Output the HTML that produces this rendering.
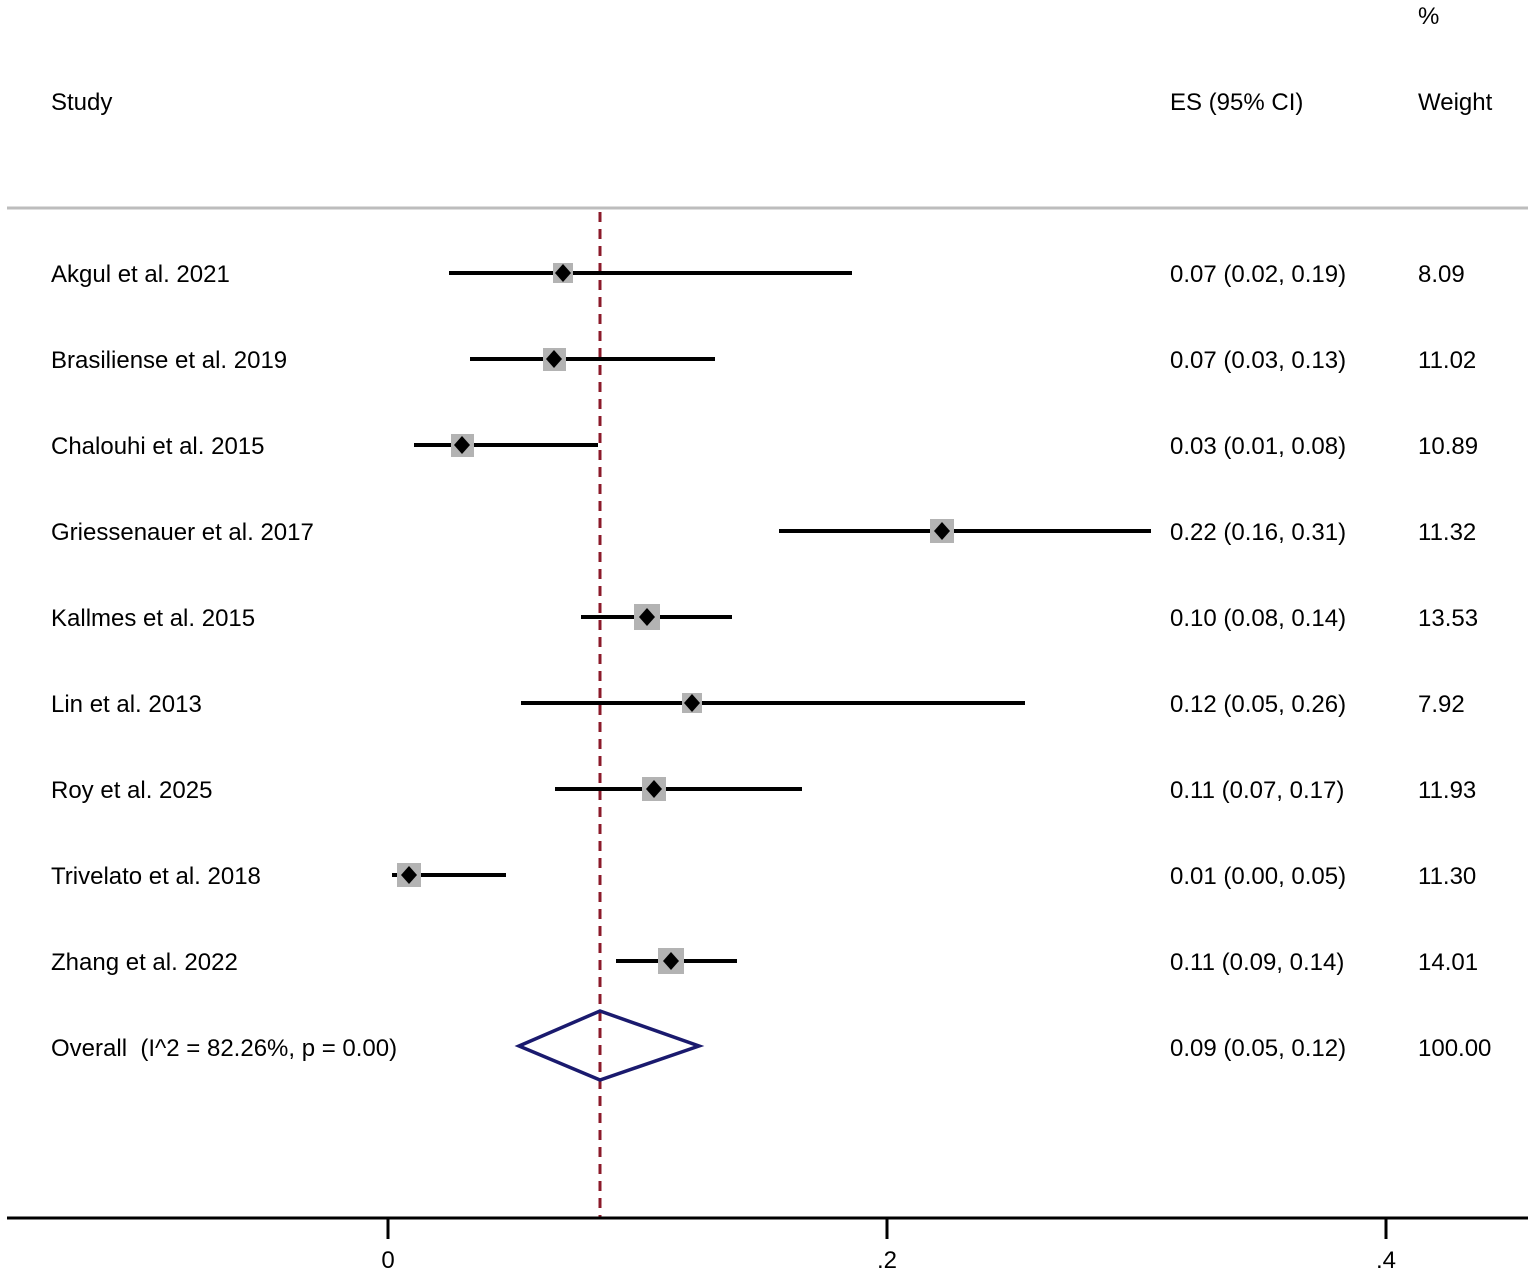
<!DOCTYPE html>
<html><head><meta charset="utf-8"><style>
html,body{margin:0;padding:0;background:#fff}
svg{display:block}
text{font-family:"Liberation Sans",Arial,sans-serif;font-size:24px;fill:#000}
</style></head><body>
<svg width="1535" height="1275" viewBox="0 0 1535 1275" xmlns="http://www.w3.org/2000/svg">
<text x="1418" y="24">%</text>
<text x="51" y="110">Study</text>
<text x="1170" y="110">ES (95% CI)</text>
<text x="1418" y="110">Weight</text>
<line x1="7" y1="208" x2="1528" y2="208" stroke="#bdbdbd" stroke-width="3"/>
<line x1="600" y1="212" x2="600" y2="1217" stroke="#8b1a2a" stroke-width="3" stroke-dasharray="10,7"/>
<g stroke="#000" stroke-width="4">
<line x1="449" y1="273" x2="852" y2="273"/>
<line x1="470" y1="359" x2="715" y2="359"/>
<line x1="414" y1="445" x2="598" y2="445"/>
<line x1="779" y1="531" x2="1151" y2="531"/>
<line x1="581" y1="617" x2="732" y2="617"/>
<line x1="521" y1="703" x2="1025" y2="703"/>
<line x1="555" y1="789" x2="802" y2="789"/>
<line x1="392" y1="875" x2="506" y2="875"/>
<line x1="616" y1="961" x2="737" y2="961"/>
</g>
<g fill="#b3b3b3">
<rect x="553" y="263" width="20" height="20"/>
<rect x="543" y="348" width="23" height="23"/>
<rect x="451" y="434" width="23" height="23"/>
<rect x="930" y="519" width="24" height="24"/>
<rect x="634" y="604" width="26" height="26"/>
<rect x="682" y="693" width="20" height="20"/>
<rect x="642" y="777" width="24" height="24"/>
<rect x="397" y="863" width="24" height="24"/>
<rect x="658" y="948" width="26" height="26"/>
</g>
<g fill="#000">
<polygon points="563,264 571,273 563,282 555,273"/>
<polygon points="554,350 562,359 554,368 546,359"/>
<polygon points="462,436 470,445 462,454 454,445"/>
<polygon points="942,522 950,531 942,540 934,531"/>
<polygon points="647,608 655,617 647,626 639,617"/>
<polygon points="692,694 700,703 692,712 684,703"/>
<polygon points="654,780 662,789 654,798 646,789"/>
<polygon points="409,866 417,875 409,884 401,875"/>
<polygon points="671,952 679,961 671,970 663,961"/>
</g>
<polygon points="600,1011 699,1046 600,1080 519,1046" fill="none" stroke="#1a1a6e" stroke-width="3.5"/>
<g>
<text x="51" y="282">Akgul et al. 2021</text>
<text x="51" y="368">Brasiliense et al. 2019</text>
<text x="51" y="454">Chalouhi et al. 2015</text>
<text x="51" y="540">Griessenauer et al. 2017</text>
<text x="51" y="626">Kallmes et al. 2015</text>
<text x="51" y="712">Lin et al. 2013</text>
<text x="51" y="798">Roy et al. 2025</text>
<text x="51" y="884">Trivelato et al. 2018</text>
<text x="51" y="970">Zhang et al. 2022</text>
<text x="51" y="1056" xml:space="preserve">Overall  (I^2 = 82.26%, p = 0.00)</text>
<text x="1170" y="282">0.07 (0.02, 0.19)</text>
<text x="1170" y="368">0.07 (0.03, 0.13)</text>
<text x="1170" y="454">0.03 (0.01, 0.08)</text>
<text x="1170" y="540">0.22 (0.16, 0.31)</text>
<text x="1170" y="626">0.10 (0.08, 0.14)</text>
<text x="1170" y="712">0.12 (0.05, 0.26)</text>
<text x="1170" y="798">0.11 (0.07, 0.17)</text>
<text x="1170" y="884">0.01 (0.00, 0.05)</text>
<text x="1170" y="970">0.11 (0.09, 0.14)</text>
<text x="1170" y="1056">0.09 (0.05, 0.12)</text>
<text x="1418" y="282">8.09</text>
<text x="1418" y="368">11.02</text>
<text x="1418" y="454">10.89</text>
<text x="1418" y="540">11.32</text>
<text x="1418" y="626">13.53</text>
<text x="1418" y="712">7.92</text>
<text x="1418" y="798">11.93</text>
<text x="1418" y="884">11.30</text>
<text x="1418" y="970">14.01</text>
<text x="1418" y="1056">100.00</text>
</g>
<line x1="7" y1="1218" x2="1528" y2="1218" stroke="#000" stroke-width="3"/>
<g stroke="#000" stroke-width="3">
<line x1="388" y1="1218" x2="388" y2="1239"/>
<line x1="887" y1="1218" x2="887" y2="1239"/>
<line x1="1386" y1="1218" x2="1386" y2="1239"/>
</g>
<text x="388" y="1268" text-anchor="middle">0</text>
<text x="887" y="1268" text-anchor="middle">.2</text>
<text x="1386" y="1268" text-anchor="middle">.4</text>
</svg>
</body></html>
